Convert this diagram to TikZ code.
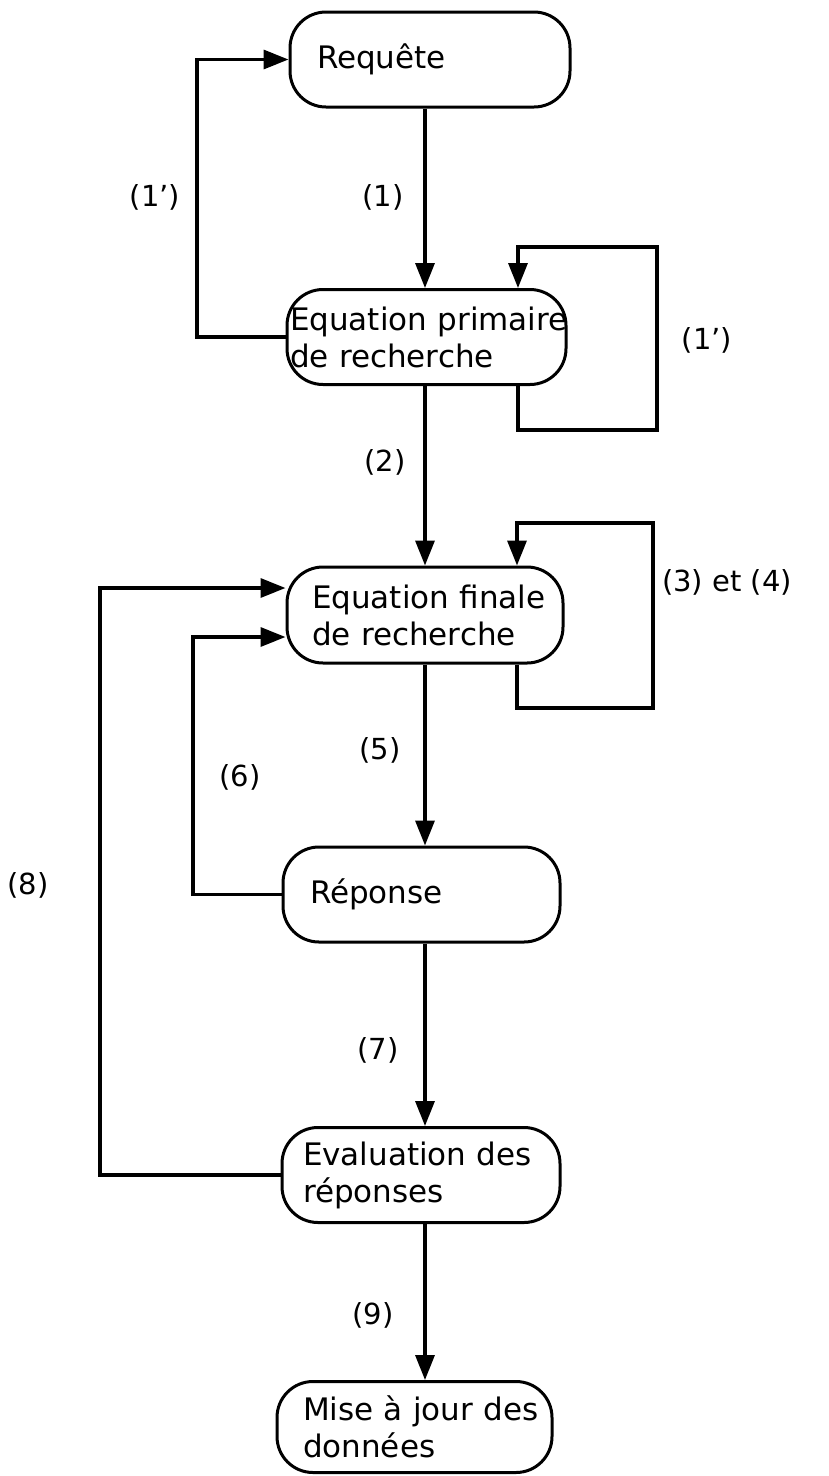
\documentclass[tikz,border=0pt]{standalone}
\usepackage{fontspec}
\setmainfont{DejaVu Sans}
\usetikzlibrary{arrows.meta}
\begin{document}
\begin{tikzpicture}[x=1pt,y=-1pt,
  box/.style={draw, line width=3pt, rounded corners=36pt, minimum height=95pt,
    align=left, font=\fontsize{31}{37}\selectfont, inner ysep=0pt},
  lbl/.style={font=\fontsize{29}{34}\selectfont, inner sep=0pt},
  arr/.style={line width=3.4pt, -{Triangle[length=25pt,width=19pt]}}]
\fill[white] (0,0) rectangle (828,1476);
\useasboundingbox (0,0) rectangle (828,1476);

% boxes
\node[box, text width=226pt, inner xsep=27pt] (req) at (430,59.5) {Requête};
\node[box, text width=273pt, inner xsep=3pt] (prim) at (426.5,337) {\mbox{Equation primaire}\\de recherche};
\node[box, text width=226pt, inner xsep=25pt, minimum height=96pt] (fin) at (425,615) {\mbox{Equation finale}\\de recherche};
\node[box, text width=223pt, inner xsep=27pt] (rep) at (421.5,894.5) {Réponse};
\node[box, text width=236pt, inner xsep=21pt] (eval) at (421,1175) {\mbox{Evaluation des}\\réponses};
\node[box, text width=223pt, inner xsep=26pt, minimum height=91pt] (maj) at (414.5,1427) {\mbox{Mise à jour des}\\données};

% helper coordinates
\coordinate (sp) at (425,0);
\coordinate (xl1) at (197,0);
\coordinate (r1a) at (518,430);
\coordinate (r1b) at (657,247);
\coordinate (r2a) at (517,708);
\coordinate (r2b) at (653,523);
\coordinate (xl8) at (100,0);
\coordinate (xl6) at (193,0);

% main chain
\draw[arr] (req.south -| sp) -- (prim.north -| sp);
\draw[arr] (prim.south -| sp) -- (fin.north -| sp);
\draw[arr] (fin.south -| sp) -- (rep.north -| sp);
\draw[arr] (rep.south -| sp) -- (eval.north -| sp);
\draw[arr] (eval.south -| sp) -- (maj.north -| sp);

% loops
\draw[arr] (prim.west) -- (prim.west -| xl1) |- (req.west);
\draw[arr] (prim.south -| r1a) -- (r1a) -| (r1b) -| (prim.north -| r1a);
\draw[arr] (fin.south -| r2a) -- (r2a) -| (r2b) -| (fin.north -| r2a);
\draw[arr] (eval.west) -- (eval.west -| xl8) |- ([yshift=27pt]fin.west);
\draw[arr] (rep.west) -- (rep.west -| xl6) |- ([yshift=-22pt]fin.west);

% labels
\node[lbl] (t1pl) at (155,197) {(1')};
\node[lbl] (t1) at (383,197) {(1)};
\node[lbl] (t1pr) at (707,340) {(1')};
\node[lbl] (t2) at (385,462) {(2)};
\node[lbl] (t34) at (727,582) {(3) et (4)};
\node[lbl] (t5) at (380,750) {(5)};
\node[lbl] (t6) at (240,777) {(6)};
\node[lbl] (t8) at (28,885) {(8)};
\node[lbl] (t7) at (378,1050) {(7)};
\node[lbl] (t9) at (373,1315) {(9)};
\end{tikzpicture}
\end{document}
